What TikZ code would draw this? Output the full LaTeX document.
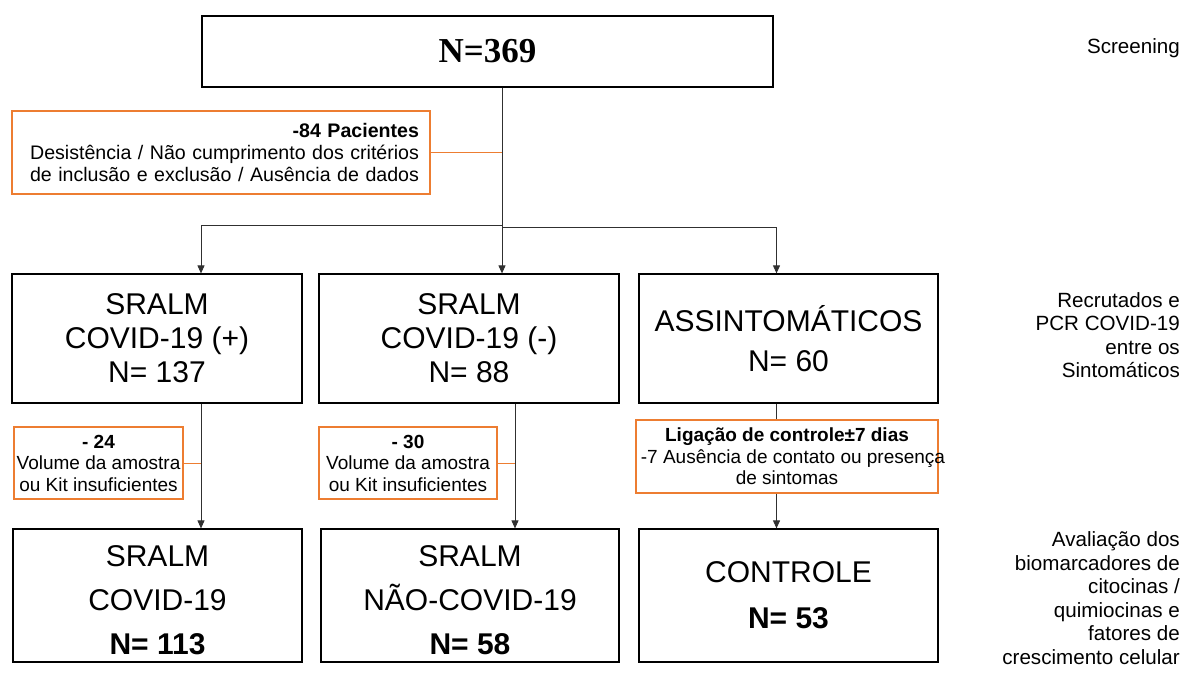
\documentclass[tikz,border=0pt]{standalone}
\usepackage{fontspec}
\setmainfont{Liberation Sans}
\newfontfamily\timesf{Liberation Serif}
\usetikzlibrary{arrows.meta}
\definecolor{orng}{HTML}{ED7D31}
\definecolor{lin}{HTML}{303030}
\begin{document}
\begin{tikzpicture}[x=1pt,y=-1pt,
  box/.style={draw=black,line width=1.2pt,rectangle,inner sep=0pt,align=center},
  obox/.style={draw=orng,line width=1.1pt,fill=white,rectangle,inner sep=0pt,align=center,
    font=\fontsize{19}{21.5}\selectfont},
  arr/.style={draw=lin,line width=0.9pt,-{Triangle[width=7pt,length=8pt]}},
  conn/.style={draw=lin,line width=0.9pt},
  oconn/.style={draw=orng,line width=1pt},
  side/.style={anchor=east,align=right,inner sep=0pt,font=\fontsize{20.6}{23.5}\selectfont}]
\useasboundingbox[fill=white] (0,0) rectangle (1193,679);

% top box
\node[box,minimum width=571pt,minimum height=71pt,
  font=\timesf\bfseries\fontsize{35}{40}\selectfont] (top) at (487.5,51.5) {N=369};

% exclusion box
\node[obox,minimum width=418pt,minimum height=83pt,align=right,text width=396pt,
  font=\fontsize{19.6}{22}\selectfont] (ex1) at (221,152.5)
  {\textbf{-84 Pacientes}\\Desistência / Não cumprimento dos critérios\\de inclusão e exclusão / Ausência de dados};

% middle row
\node[box,minimum width=290pt,minimum height=129pt,font=\fontsize{30}{34}\selectfont] (m1) at (157,338.5)
  {SRALM\\COVID-19 (+)\\N= 137};
\node[box,minimum width=300pt,minimum height=129pt,font=\fontsize{30}{34}\selectfont] (m2) at (469,338.5)
  {SRALM\\COVID-19 (-)\\N= 88};
\node[box,minimum width=299pt,minimum height=129pt,font=\fontsize{30}{40}\selectfont] (m3) at (788.5,338.5)
  {ASSINTOMÁTICOS\\N= 60};

% second exclusion boxes
\node[obox,minimum width=169pt,minimum height=72pt] (ex2) at (98.5,463)
  {\textbf{- 24}\\Volume da amostra\\ou Kit insuficientes};
\node[obox,minimum width=178pt,minimum height=72pt] (ex3) at (408,463)
  {\textbf{- 30}\\Volume da amostra\\ou Kit insuficientes};
\node[obox,minimum width=302pt,minimum height=73pt] (ex4) at (787,456.5)
  {\textbf{Ligação de controle±7 dias}\\\makebox[280pt][c]{\hspace*{12pt}-7 Ausência de contato ou presença}\\de sintomas};

% bottom row
\node[box,minimum width=289pt,minimum height=133pt,font=\fontsize{30}{44}\selectfont] (b1) at (157.5,595.5)
  {\rule{0pt}{30pt}SRALM\\COVID-19\\\textbf{N= 113}};
\node[box,minimum width=298pt,minimum height=133pt,font=\fontsize{30}{44}\selectfont] (b2) at (470,595.5)
  {\rule{0pt}{30pt}SRALM\\NÃO-COVID-19\\\textbf{N= 58}};
\node[box,minimum width=299pt,minimum height=133pt,font=\fontsize{30}{44}\selectfont] (b3) at (788.5,595.5)
  {CONTROLE\\[2pt]\textbf{N= 53}};

% side labels
\node[side] (s1) at (1180,48) {Screening};
\node[side] (s2) at (1180,335) {Recrutados e\\PCR COVID-19\\entre os\\Sintomáticos};
\node[side] (s3) at (1180,598) {Avaliação dos\ \\biomarcadores de\\citocinas /\\quimiocinas e\\fatores de\\crescimento celular};

% junction coordinates
\coordinate (br) at (502,225);
\coordinate (j1) at (201,225);
\coordinate (j2) at (515,0);
\coordinate (j3) at (776.5,227);

% connectors
\draw[conn] (top.south -| br) -- (br);
\draw[oconn] (ex1.east) -- (ex1.east -| br);
\draw[arr] (br) -- (j1) -- (j1 |- m1.north);
\draw[arr] (br) -- (br |- m2.north);
\draw[arr] (br) -- (br |- j3) -- (j3) -- (j3 |- m3.north);

\draw[arr] (m1.south -| j1) -- (b1.north -| j1);
\draw[oconn] (ex2.east) -- (ex2.east -| j1);
\draw[arr] (m2.south -| j2) -- (b2.north -| j2);
\draw[oconn] (ex3.east) -- (ex3.east -| j2);
\draw[conn] (m3.south -| j3) -- (ex4.north -| j3);
\draw[arr] (ex4.south -| j3) -- (b3.north -| j3);
\end{tikzpicture}
\end{document}
